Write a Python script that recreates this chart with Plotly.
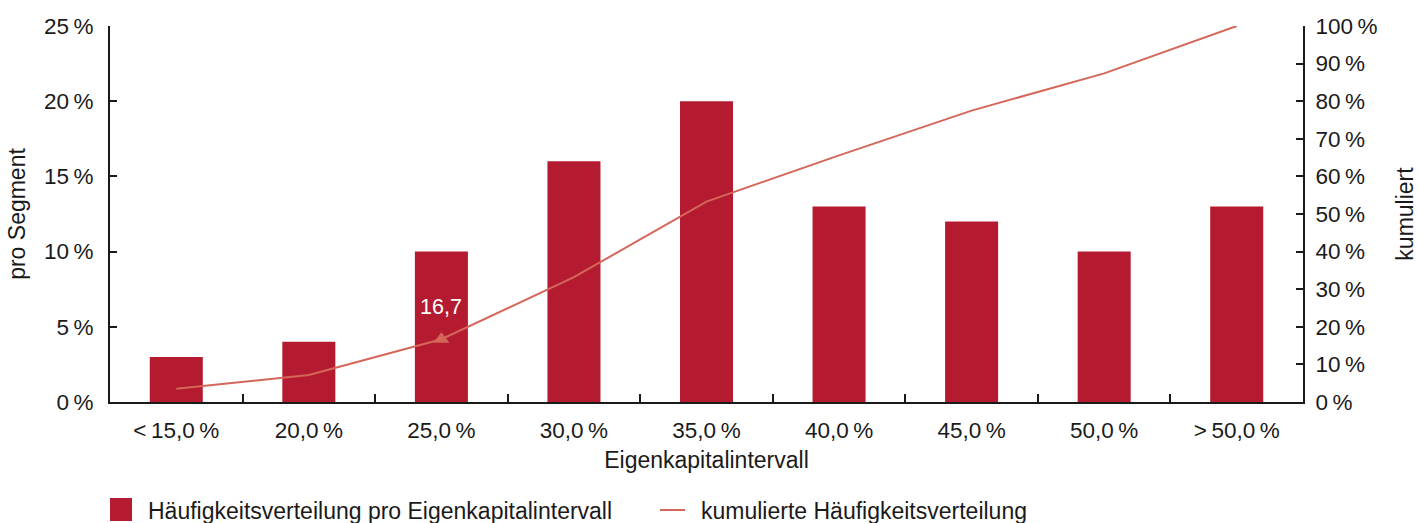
import plotly.graph_objects as go

TS = "\u2009"  # thin space used in the percentage labels
categories = ["<" + TS + "15,0" + TS + "%", "20,0" + TS + "%", "25,0" + TS + "%", "30,0" + TS + "%",
              "35,0" + TS + "%", "40,0" + TS + "%", "45,0" + TS + "%", "50,0" + TS + "%", ">" + TS + "50,0" + TS + "%"]
pro_segment = [3, 4, 10, 16, 20, 13, 12, 10, 13]
kumuliert = [3.5, 7.2, 16.7, 33.2, 53.3, 65.6, 77.5, 87.4, 100]
y_left_ticks = [0, 5, 10, 15, 20, 25]
y_left_labels = [f"{v}{TS}%" for v in y_left_ticks]
y_right_ticks = [0, 10, 20, 30, 40, 50, 60, 70, 80, 90, 100]
y_right_labels = [f"{v}{TS}%" for v in y_right_ticks]
highlight_index = 2
highlight_label = "16,7"
bar_name = "Häufigkeitsverteilung pro Eigenkapitalintervall"
line_name = "kumulierte Häufigkeitsverteilung"

BAR = "#b51b30"
LINE = "#d4665a"
TXT = "#1a1a1a"
FONT = "Liberation Sans"

# plot area in pixels (for the hand-drawn legend)
PW, PH = 1193, 376

fig = go.Figure()
fig.add_trace(go.Bar(
    x=categories, y=pro_segment, width=0.4, marker=dict(color=BAR, line=dict(width=0)),
    name=bar_name, yaxis="y", showlegend=False,
))
fig.add_trace(go.Scatter(
    x=categories, y=kumuliert, mode="lines", line=dict(color=LINE, width=2),
    name=line_name, yaxis="y2", showlegend=False,
))
fig.add_trace(go.Scatter(
    x=[categories[highlight_index]], y=[kumuliert[highlight_index]], mode="markers",
    marker=dict(symbol="triangle-up", size=14, color=LINE),
    showlegend=False, yaxis="y2", cliponaxis=False,
))
fig.add_annotation(text=highlight_label, x=categories[highlight_index], y=kumuliert[highlight_index],
                   xref="x", yref="y2", yshift=32, yanchor="middle", showarrow=False,
                   font=dict(color="white", size=21.5, family=FONT))

# legend drawn by hand to match the large square swatch
fig.add_shape(type="rect", xref="paper", yref="paper", x0=0, x1=22 / PW,
              y0=(402 - 521) / PH, y1=(402 - 498) / PH, fillcolor=BAR, line=dict(width=0))
fig.add_shape(type="line", xref="paper", yref="paper", x0=550 / PW, x1=575 / PW,
              y0=(402 - 510) / PH, y1=(402 - 510) / PH, line=dict(color=LINE, width=2))
fig.add_annotation(text=bar_name, xref="paper", yref="paper", x=36 / PW, y=(402 - 511) / PH,
                   xanchor="left", yanchor="middle", showarrow=False, font=dict(size=23, color=TXT))
fig.add_annotation(text=line_name, xref="paper", yref="paper", x=589 / PW, y=(402 - 511) / PH,
                   xanchor="left", yanchor="middle", showarrow=False, font=dict(size=23, color=TXT))

axis_common = dict(showline=True, linecolor=TXT, linewidth=2, ticks="inside", ticklen=7,
                   tickcolor=TXT, tickwidth=2, showgrid=False, zeroline=False,
                   tickfont=dict(size=22.5, color=TXT))

fig.update_layout(
    width=1419, height=523,
    margin=dict(l=110, r=116, t=26, b=121, autoexpand=False),
    plot_bgcolor="white", paper_bgcolor="white",
    font=dict(family=FONT, size=19, color=TXT),
    showlegend=False,
    xaxis=dict(
        type="category", range=[-0.5, 8.5], tickson="boundaries", ticklen=8,
        ticklabelstandoff=7,
        title=dict(text="Eigenkapitalintervall", standoff=10, font=dict(size=23)),
        **{k: v for k, v in axis_common.items() if k != "ticklen"},
    ),
    yaxis=dict(
        range=[0, 25], tickvals=y_left_ticks, ticktext=y_left_labels, ticklabelstandoff=10,
        title=dict(text="pro Segment", standoff=12, font=dict(size=23)),
        **axis_common,
    ),
    yaxis2=dict(
        range=[0, 100], tickvals=y_right_ticks, ticktext=y_right_labels, overlaying="y", side="right",
        ticklabelstandoff=6,
        title=dict(text="kumuliert", standoff=20, font=dict(size=23)),
        **axis_common,
    ),
)
fig.write_html("out.html")
